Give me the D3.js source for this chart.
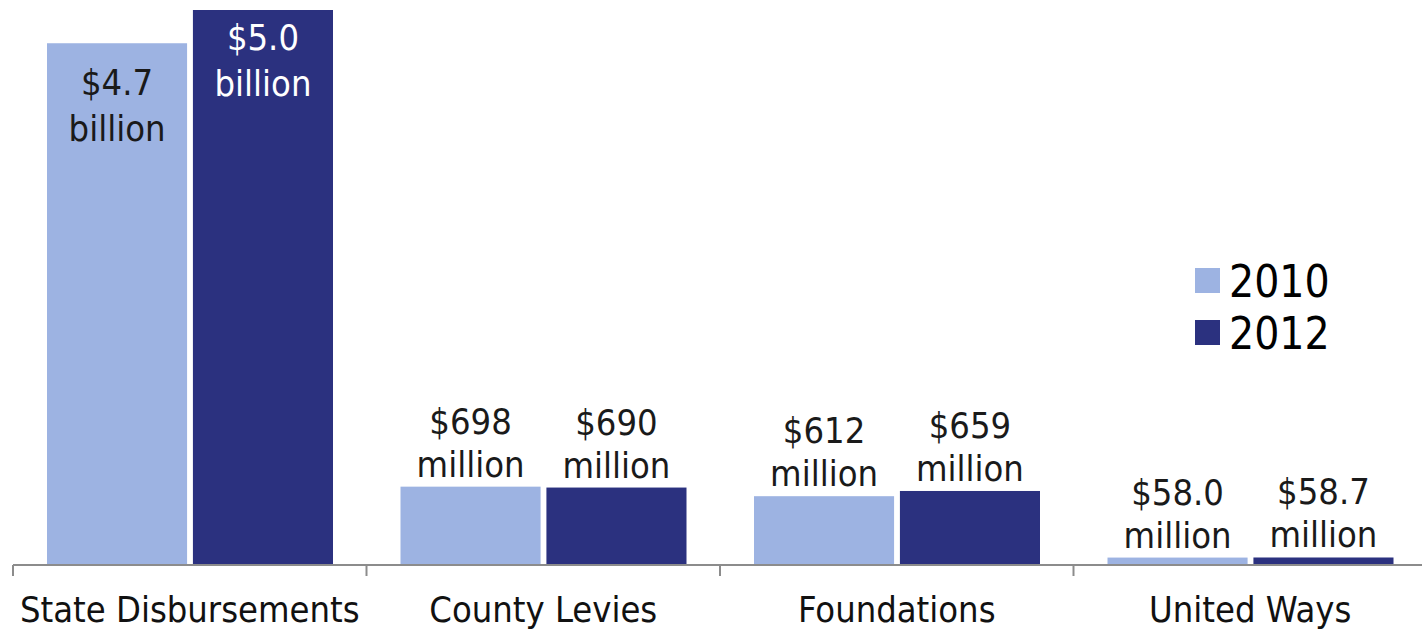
<!DOCTYPE html>
<html>
<head>
<meta charset="utf-8">
<script src="https://cdn.jsdelivr.net/npm/d3@7"></script>
<style>
  body { margin: 0; background: #fff; }
  text { font-family: "DejaVu Sans Condensed", "DejaVu Sans", sans-serif; }
</style>
</head>
<body>
<div id="chart-area"></div>
<script>
// values in millions of dollars
const categories = ["State Disbursements", "County Levies", "Foundations", "United Ways"];
const seriesNames = ["2010", "2012"];
const values2010 = [4700, 698, 612, 58.0];
const values2012 = [5000, 690, 659, 58.7];
const labels2010 = [["$4.7", "billion"], ["$698", "million"], ["$612", "million"], ["$58.0", "million"]];
const labels2012 = [["$5.0", "billion"], ["$690", "million"], ["$659", "million"], ["$58.7", "million"]];

const W = 1422, H = 629;
const MARGIN = { LEFT: 13, TOP: 10 };
const colors = ["#9db3e2", "#2b317f"];

const svg = d3.select("#chart-area").append("svg")
  .attr("width", W)
  .attr("height", H);

const g = svg.append("g")
  .attr("transform", `translate(${MARGIN.LEFT}, ${MARGIN.TOP})`);

// the last category runs a little past the right edge, as in the original
const WIDTH = 4 * 353.5;
const HEIGHT = 554;

const x0 = d3.scaleBand().domain(categories).range([0, WIDTH]);
const xs = d3.scaleBand().domain(seriesNames).range([34, 320]).paddingInner(0.04);

const y = d3.scaleLinear()
  .domain([0, 5000])
  .range([HEIGHT, 0]);

const data = [];
categories.forEach((c, i) => {
  data.push({ cat: c, s: 0, v: values2010[i], lab: labels2010[i] });
  data.push({ cat: c, s: 1, v: values2012[i], lab: labels2012[i] });
});

g.selectAll("rect.bar")
  .data(data)
  .enter().append("rect")
  .attr("class", "bar")
  .attr("x", d => x0(d.cat) + xs(seriesNames[d.s]))
  .attr("y", d => y(d.v))
  .attr("width", xs.bandwidth())
  .attr("height", d => HEIGHT - y(d.v))
  .attr("fill", d => colors[d.s]);

// value labels: inside tall bars, above short ones
const inside = d => HEIGHT - y(d.v) > 200;
const lab = g.selectAll("text.val")
  .data(data)
  .enter().append("text")
  .attr("class", "val")
  .attr("text-anchor", "middle")
  .attr("font-size", 36)
  .attr("fill", d => inside(d) && d.s === 1 ? "#fff" : "#1a1a1a")
  .attr("transform", d => {
    const cx = x0(d.cat) + xs(seriesNames[d.s]) + xs.bandwidth() / 2;
    const base = inside(d) ? y(d.v) + (d.s === 0 ? 52 : 40) : y(d.v) - 53;
    return `translate(${cx}, ${base})`;
  });
lab.append("tspan").attr("x", 0).attr("y", 0).text(d => d.lab[0]);
lab.append("tspan").attr("x", 0).attr("y", d => inside(d) ? 46 : 43).text(d => d.lab[1]);

// axis
const axis = g.append("g")
  .attr("transform", `translate(0, ${HEIGHT + 1})`);
axis.append("line")
  .attr("x1", 0).attr("x2", WIDTH)
  .attr("stroke", "#8c8c8c").attr("stroke-width", 2);
axis.selectAll("line.tick")
  .data(d3.range(categories.length + 1))
  .enter().append("line")
  .attr("class", "tick")
  .attr("x1", i => i * x0.step()).attr("x2", i => i * x0.step())
  .attr("y1", 0).attr("y2", 11)
  .attr("stroke", "#8c8c8c").attr("stroke-width", 2);
axis.selectAll("text.cat")
  .data(categories)
  .enter().append("text")
  .attr("class", "cat")
  .attr("x", d => x0(d) + x0.bandwidth() / 2)
  .attr("y", 57)
  .attr("text-anchor", "middle")
  .attr("font-size", 36)
  .attr("fill", "#111")
  .text(d => d);

// legend
const legend = svg.append("g").attr("transform", "translate(1195, 268)");
seriesNames.forEach((s, i) => {
  legend.append("rect")
    .attr("x", 0).attr("y", i * 52)
    .attr("width", 25).attr("height", 25)
    .attr("fill", colors[i]);
  legend.append("text")
    .attr("x", 34).attr("y", i * 52 + 29)
    .attr("font-size", 44)
    .attr("fill", "#000")
    .text(s);
});
</script>
</body>
</html>
